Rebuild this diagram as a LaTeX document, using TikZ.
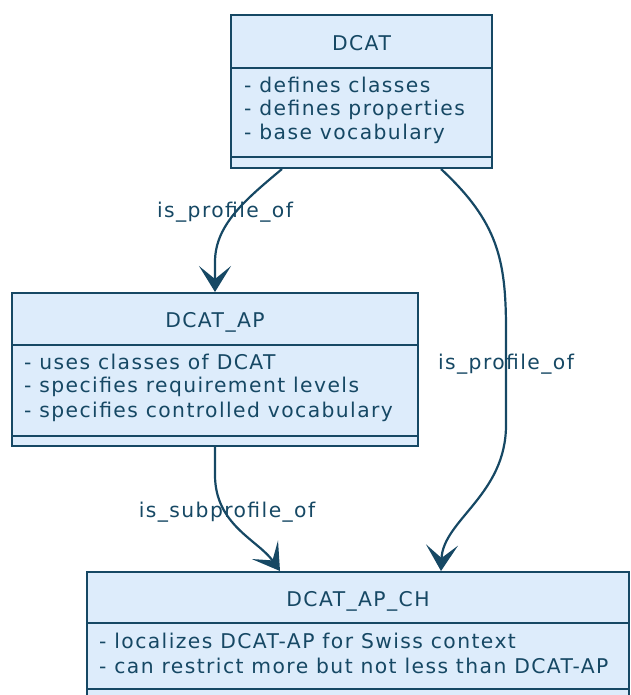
\documentclass[tikz,border=0pt]{standalone}
\usepackage{fontspec}
\setmainfont{DejaVu Sans}[LetterSpace=7]
\usetikzlibrary{arrows.meta}
\definecolor{boxfill}{RGB}{221,236,251}
\definecolor{ink}{RGB}{22,72,100}
\begin{document}
\begin{tikzpicture}[x=1pt,y=-1pt,
  umlbox/.style={draw=ink,fill=boxfill,line width=2pt,rectangle,inner sep=0pt},
  sepline/.style={draw=ink,line width=2pt},
  ttl/.style={text=ink,font=\fontsize{20.3}{22}\selectfont,inner sep=0pt,anchor=center},
  mem/.style={text=ink,font=\fontsize{20.3}{25}\selectfont,inner sep=0pt,anchor=west,align=left},
  elabel/.style={text=ink,font=\fontsize{20.3}{22}\selectfont,inner sep=0pt},
  conn/.style={draw=ink,line width=2.2pt,-{Stealth[length=26pt,width=32pt,inset=13pt]}}
]
\useasboundingbox (0,0) rectangle (630,695);
\clip (0,0) rectangle (630,695);
% DCAT
\node[umlbox,minimum width=261pt,minimum height=153pt] (dcat) at (361.5,91.5) {};
\draw[sepline] (dcat.west |- 0,68) -- (dcat.east |- 0,68);
\draw[sepline] (dcat.west |- 0,157) -- (dcat.east |- 0,157);
\node[ttl] (dcatt) at (361.5,43) {DCAT};
\node[mem] (dcatm1) at (244,85) {- defines classes};
\node[mem] (dcatm2) at (244,110) {- defines properties};
\node[mem] (dcatm3) at (244,134) {- base vocabulary};
% DCAT_AP
\node[umlbox,minimum width=406pt,minimum height=153pt] (ap) at (215,369.5) {};
\draw[sepline] (ap.west |- 0,345) -- (ap.east |- 0,345);
\draw[sepline] (ap.west |- 0,436) -- (ap.east |- 0,436);
\node[ttl] (apt) at (215,322) {DCAT\_AP};
\node[mem] (apm1) at (24,362) {- uses classes of DCAT};
\node[mem] (apm2) at (24,387) {- specifies requirement levels};
\node[mem] (apm3) at (24,412) {- specifies controlled vocabulary};
% DCAT_AP_CH
\node[umlbox,minimum width=542pt,minimum height=153pt] (ch) at (358,648.5) {};
\draw[sepline] (ch.west |- 0,623) -- (ch.east |- 0,623);
\draw[sepline] (ch.west |- 0,689) -- (ch.east |- 0,689);
\node[ttl] (cht) at (358,601) {DCAT\_AP\_CH};
\node[mem] (chm1) at (99,641) {- localizes DCAT-AP for Swiss context};
\node[mem] (chm2) at (99,666) {- can restrict more but not less than DCAT-AP};
% connectors
\draw[conn] ([xshift=-79.5pt]dcat.south) .. controls (245,200) and (215,225) .. (215,262) -- (ap.north);
\draw[conn] ([xshift=79.5pt]dcat.south) .. controls (498,222) and (506,260) .. (506,330) -- (506,425) .. controls (506,495) and (443,520) .. ([xshift=83pt]ch.north);
\draw[conn] (ap.south) -- (215,475) .. controls (215,525) and (258,540) .. ([xshift=-78pt]ch.north);
% labels
\node[elabel] (l1) at (225,212) {is\_profile\_of};
\node[elabel] (l2) at (506,364) {is\_profile\_of};
\node[elabel] (l3) at (227,512) {is\_subprofile\_of};
\end{tikzpicture}
\end{document}
